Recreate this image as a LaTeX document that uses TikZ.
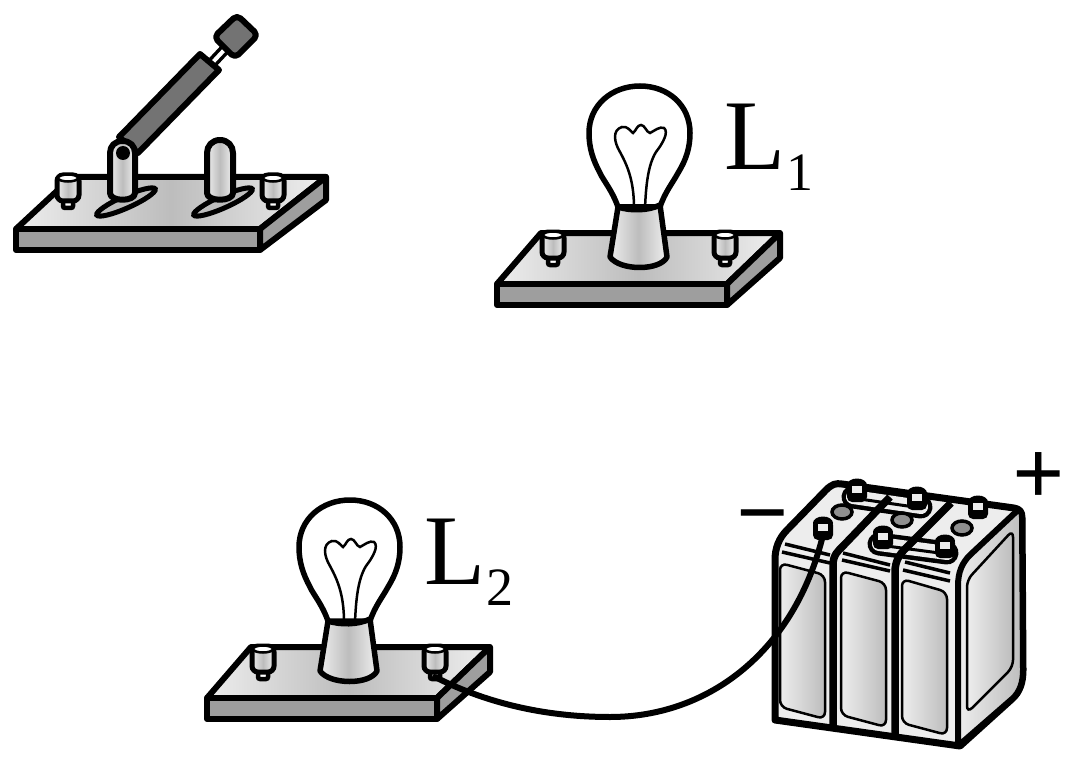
\documentclass[tikz,border=0pt]{standalone}
\usepackage{fontspec}
\setmainfont{Liberation Serif}
\usetikzlibrary{shapes.geometric}
\definecolor{darkface}{gray}{0.45}
\definecolor{sideface}{gray}{0.62}
\definecolor{palemetal}{gray}{0.93}
\definecolor{midmetal}{gray}{0.74}
\tikzset{
  outline/.style={draw=black,line width=6pt,line join=round},
  metal/.style={left color=palemetal,right color=palemetal!90,middle color=midmetal},
  sweep/.style={left color=palemetal,right color=midmetal},
  letter/.style={inner sep=0pt,font=\fontsize{100}{100}\selectfont,anchor=base west},
  polarity/.style={inner sep=0pt,font=\fontsize{92}{92}\selectfont\bfseries},
  binding/.pic={
    \draw[line width=4.5pt,fill=white,rounded corners=2pt] (-5,19) rectangle (5,30);
    \draw[line width=5pt,metal,rounded corners=6pt] (-11,-3) rectangle (11,23);
    \draw[line width=2.5pt,fill=white] (0,0) ellipse [x radius=10,y radius=3.5];
  },
  terminal/.pic={
    \fill[black,rounded corners=5pt] (-10,3) rectangle (10,23);
    \fill[black] (0,6) ellipse [x radius=10,y radius=6.5];
    \fill[palemetal] (-5,7) rectangle (5,14);
  },
  lamp/.pic={
    \draw[outline,metal] (497,284) -- (541,233) -- (780,233) -- (727,284) -- cycle;
    \draw[outline,fill=sideface] (727,284) -- (780,233) -- (780,258) -- (727,305) -- cycle;
    \draw[outline,fill=sideface] (497,284) rectangle (727,305);
    \pic at (553,235) {binding};
    \pic at (725,235) {binding};
    \coordinate (-postr) at (725,263);
    \draw[line width=5.5pt,fill=white] (618,207) .. controls (612,190) and (603,180) .. (600,173)
      .. controls (593,160) and (589,148) .. (589,133)
      .. controls (589,105) and (612,86) .. (640,86)
      .. controls (668,86) and (690,105) .. (690,133)
      .. controls (690,148) and (686,160) .. (678,173)
      .. controls (672,184) and (665,192) .. (660,207) -- cycle;
    \draw[line width=2.5pt] (634,208) .. controls (634,180) and (627,165) .. (620,152)
      .. controls (614,142) and (612,130) .. (622,127)
      .. controls (628,126) and (630,131) .. (633,133)
      .. controls (636,131) and (637,125) .. (641,125)
      .. controls (645,125) and (646,132) .. (650,133)
      .. controls (654,131) and (660,126) .. (664,128)
      .. controls (669,132) and (663,143) .. (656,152)
      .. controls (648,165) and (646,185) .. (645,208);
    \draw[line width=5.5pt,line join=round,metal] (618,207) .. controls (630,211) and (648,211) .. (660,205)
      -- (667,257) .. controls (660,271) and (620,271) .. (610,257) -- cycle;
  },
  cellwindow/.style={line width=2.5pt,sweep,rounded corners=7pt}
}
\begin{document}
\begin{tikzpicture}[x=1pt,y=-1pt]
  \useasboundingbox (0,0) rectangle (1073,762);
  % switch board
  \draw[outline,metal] (16,229) -- (72,177) -- (326,177) -- (260,229) -- cycle;
  \draw[outline,fill=sideface] (260,229) -- (326,177) -- (326,200) -- (260,250) -- cycle;
  \draw[outline,fill=sideface] (16,229) rectangle (260,250);
  \pic at (68,178) {binding};
  \pic at (273,178) {binding};
  \draw[line width=5pt,fill=midmetal] (126,202) ellipse [x radius=32,y radius=6,rotate=24];
  \draw[line width=5pt,fill=midmetal] (223,202) ellipse [x radius=32,y radius=6,rotate=24];
  % lever
  \draw[line width=11pt] (213,62) -- (227,47);
  \draw[line width=4pt,white] (213,62) -- (227,47);
  \draw[outline,fill=darkface,rounded corners=5pt] (237,15) -- (258,35) -- (235,58) -- (214,37) -- cycle;
  \draw[outline,fill=darkface] (119,137) -- (200,54) -- (219,70) -- (138,153) -- cycle;
  \draw[outline,metal] (110,193) -- (110,153) .. controls (110,146) and (115,141) .. (122.5,141)
    .. controls (130,141) and (135,146) .. (135,153) -- (135,193)
    .. controls (135,202) and (110,202) .. (110,193) -- cycle;
  \fill[black] (123,153) circle [radius=7];
  \draw[outline,metal] (207,193) -- (207,153) .. controls (207,146) and (212,140) .. (220,140)
    .. controls (228,140) and (233,146) .. (233,153) -- (233,193)
    .. controls (233,202) and (207,202) .. (207,193) -- cycle;
  % lamps
  \pic (lampA) at (0,0) {lamp};
  \pic (lampB) at (-290,414) {lamp};
  \node[letter] (labelA) at (724,170) {L\kern1pt\raisebox{-21pt}{\fontsize{54}{54}\selectfont 1}};
  \node[letter] (labelB) at (424,584) {L\kern1pt\raisebox{-21pt}{\fontsize{54}{54}\selectfont 2}};
  % battery
  \draw[line width=7pt,line join=round,fill=palemetal] (775,720) -- (775,560)
    .. controls (775,548) and (779,538) .. (787,530) -- (826,490)
    .. controls (832,484) and (836,483) .. (842,484) -- (1014,508)
    .. controls (1020,509) and (1022,512) .. (1022,518) -- (1023,670)
    .. controls (1023,682) and (1020,692) .. (1012,699) -- (960,746) -- cycle;
  \draw[line width=6pt,sweep,line join=round] (958,746) -- (958,586)
    .. controls (958,572) and (962,563) .. (970,555) -- (1018,510)
    .. controls (1022,512) and (1022,514) .. (1022,518) -- (1023,670)
    .. controls (1023,682) and (1020,692) .. (1012,699) -- cycle;
  \foreach \xa/\ya/\xb/\yb in {853/497/921/507, 879/544/947/553} {
    \draw[line width=23pt,line cap=round] (\xa,\ya) -- (\xb,\yb);
    \draw[line width=14pt,line cap=round,palemetal] (\xa,\ya) -- (\xb,\yb);
    \draw[line width=3pt] (\xa,\ya+1) -- (\xb,\yb+1);
  }
  \draw[line width=7.5pt,line join=round] (833,729) -- (833,565)
    .. controls (833,555) and (838,551) .. (843,546) -- (890,497);
  \draw[line width=7.5pt,line join=round] (895,737) -- (895,572)
    .. controls (895,562) and (899,555) .. (904,550) -- (951,503);
  \draw[cellwindow] (780,563) -- (825,575) -- (825,719) -- (780,707) -- cycle;
  \draw[cellwindow] (841,571) -- (886,583) -- (886,727) -- (841,715) -- cycle;
  \draw[cellwindow] (902,579) -- (947,592) -- (947,735) -- (902,723) -- cycle;
  \draw[cellwindow] (967,580) -- (1013,530) -- (1013,667) -- (967,713) -- cycle;
  \foreach \xa/\ya/\xb/\yb in {785/544/830/555, 782/552/830/563, 843/553/890/565,
      842/560/890/571, 905/562/950/573, 903/570/950/581}
    \draw[line width=3.5pt] (\xa,\ya) -- (\xb,\yb);
  \foreach \xa/\ya in {842/512, 902/520, 962/528}
    \draw[line width=3.5pt,fill=darkface!80] (\xa,\ya) ellipse [x radius=10,y radius=7];
  \pic at (857,479) {terminal};
  \pic at (917,487) {terminal};
  \pic at (978,496) {terminal};
  \pic at (883,526) {terminal};
  \pic at (945,535) {terminal};
  \pic at (823,517) {terminal};
  \coordinate (batneg) at (823,535);
  % wire
  \draw[line width=6pt,line cap=round] (lampB-postr) .. controls (490,705) and (550,717) .. (610,717)
    .. controls (710,717) and (795,650) .. (batneg);
  \node[polarity] (plus) at (1039,479) {+};
  \node[polarity] (minus) at (763,527) {−};
\end{tikzpicture}
\end{document}
